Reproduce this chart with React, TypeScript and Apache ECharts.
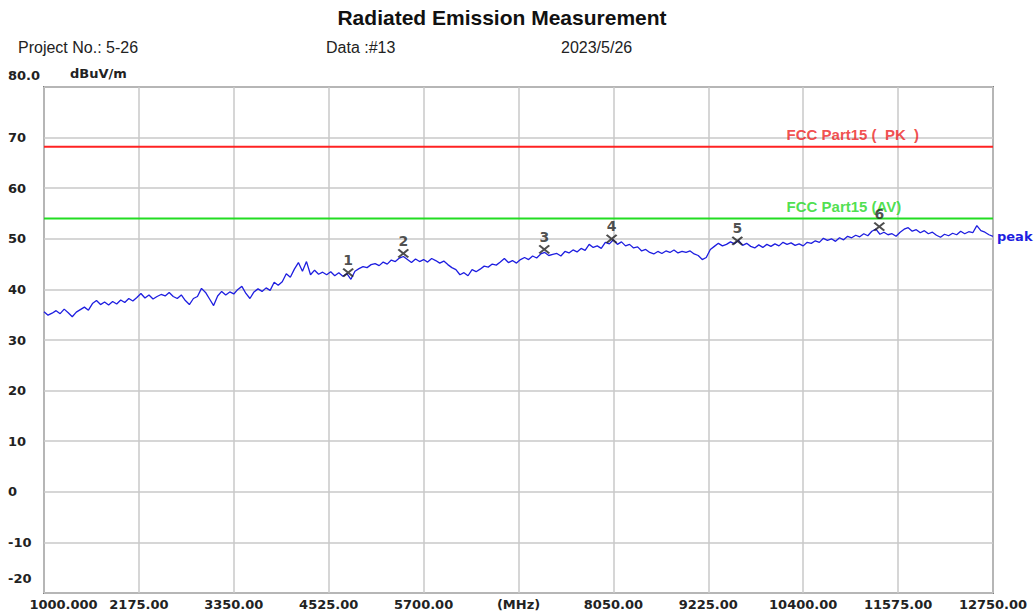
import React, { useEffect, useRef } from "react";
import * as echarts from "echarts";

// Sweep grid (MHz)
const freqStart = 1000;
const freqStep = 50;
const xAxisMin = 1000;
const xAxisMax = 12750;
const xAxisInterval = 1175;
const yAxisMin = -20;
const yAxisMax = 80;
const yAxisInterval = 10;

// Peak trace (dBuV/m), one value per sweep step
const peakTrace = [
  35.6, 34.9, 35.3, 35.8, 35.2, 36.1, 35.4, 34.6, 35.5, 36.0,
  36.5, 35.9, 37.2, 37.8, 37.0, 37.5, 36.9, 37.6, 37.1, 37.9,
  37.4, 38.2, 37.7, 38.4, 39.2, 38.3, 38.9, 38.1, 38.6, 39.0,
  38.7, 39.4, 38.6, 38.2, 38.9, 37.8, 37.0, 38.2, 38.6, 40.2,
  39.4, 38.1, 36.8, 38.7, 39.6, 38.9, 39.5, 39.1, 40.0, 40.6,
  39.2, 38.2, 39.5, 40.1, 39.6, 40.3, 39.8, 41.4, 40.8, 41.5,
  43.1, 42.4, 44.0, 45.3, 43.6, 45.5, 42.9, 43.8, 43.0, 43.4,
  42.9, 43.5, 42.7, 43.3, 42.6, 43.1, 42.0, 43.6, 44.1, 44.5,
  44.3, 44.9, 45.1, 44.7, 45.4, 45.0, 45.8, 45.5, 46.2, 46.5,
  45.9, 45.3, 46.0, 45.5, 45.9, 45.4, 46.1, 45.7, 45.2, 45.6,
  44.9, 44.3, 43.9, 42.9, 43.3, 42.7, 43.9, 43.5, 44.0, 44.6,
  44.4, 45.0, 44.8, 45.4, 46.1, 45.3, 45.7, 45.2, 45.9, 46.3,
  45.9, 46.6, 46.2, 47.0, 47.3, 46.7, 46.9, 47.1, 46.6, 47.5,
  47.2, 47.8, 47.4, 48.1, 47.7, 48.9, 48.3, 48.6, 48.1, 49.3,
  49.0, 49.8, 48.9, 49.4, 48.6, 48.9, 48.2, 48.4, 47.6, 47.9,
  47.3, 47.0, 47.5, 47.1, 47.6, 47.3, 47.8, 47.2, 47.5, 47.3,
  47.6, 47.0, 46.7, 45.9, 46.3, 47.9, 48.5, 49.1, 48.6, 48.9,
  49.4, 49.0, 49.7, 48.7, 49.1, 48.5, 48.2, 48.8, 48.3, 48.9,
  48.5, 49.0, 48.6, 49.3, 48.9, 49.2, 48.7, 49.0, 48.6, 49.3,
  49.1, 49.6, 49.3, 50.1, 49.7, 50.0, 49.5, 50.2, 49.8, 50.5,
  50.2, 50.7, 50.4, 51.0, 50.6, 51.5, 51.9, 50.9, 51.3, 50.8,
  51.0, 50.5, 51.3, 51.9, 52.2, 51.5, 51.8, 51.2, 51.6, 51.0,
  51.3, 50.7, 50.3, 50.9, 50.6, 51.1, 50.8, 51.5, 51.0, 51.4,
  51.2, 52.6, 51.6, 51.3, 50.8, 50.5,
];

// Limit lines
const pkLimit = 68.2;
const avLimit = 54.0;
const pkLimitLabel = "FCC Part15 (  PK  )";
const avLimitLabel = "FCC Part15 (AV)";
const limitLabelFreq = 10200;

// Markers
const markerFreq = [4766, 5449, 7194, 8028, 9584, 11342];
const markerLevel = [43.3, 47.1, 47.9, 50.0, 49.6, 52.4];

const titleText = "Radiated Emission Measurement";
const projectText = "Project No.: 5-26";
const dataText = "Data :#13";
const dateText = "2023/5/26";
const yUnit = "dBuV/m";
const xUnitLabel = "(MHz)";
const xUnitTick = 6875;

const AXIS_FONT = "'DejaVu Sans', sans-serif";
const SANS = "'Liberation Sans', Arial, sans-serif";

export default function App() {
  const ref = useRef<HTMLDivElement>(null);
  useEffect(() => {
    if (!ref.current) return;
    const chart = echarts.init(ref.current, undefined, { renderer: "svg" });
    const axisLabelStyle = {
      fontFamily: AXIS_FONT,
      fontWeight: "bold" as const,
      fontSize: 13,
      color: "#222",
    };
    const option: any = {
      animation: false,
      backgroundColor: "#ffffff",
      grid: {
        left: 44,
        right: 43,
        top: 87,
        bottom: 21,
        show: true,
        borderColor: "#808080",
        borderWidth: 2,
        containLabel: false,
      },
      xAxis: {
        type: "value",
        min: xAxisMin,
        max: xAxisMax,
        interval: xAxisInterval,
        axisLine: { show: false },
        axisTick: { show: false },
        splitLine: { show: true, lineStyle: { color: "#c9c9c9", width: 1.5 } },
        axisLabel: {
          ...axisLabelStyle,
          margin: 5,
          showMinLabel: true,
          showMaxLabel: true,
          formatter: (v: number) => {
            if (v === xAxisMin) return "{first|" + v.toFixed(3) + "}";
            if (v === xUnitTick) return xUnitLabel;
            return v.toFixed(2);
          },
          rich: {
            first: { ...axisLabelStyle, padding: [0, 0, 0, 39] },
          },
        },
      },
      yAxis: {
        type: "value",
        min: yAxisMin,
        max: yAxisMax,
        interval: yAxisInterval,
        axisLine: { show: false },
        axisTick: { show: false },
        splitLine: { show: true, lineStyle: { color: "#c9c9c9", width: 1.5 } },
        axisLabel: {
          ...axisLabelStyle,
          align: "left",
          margin: 36,
          formatter: (v: number) => {
            if (v === yAxisMax) return "{top|" + v.toFixed(1) + "}";
            if (v === yAxisMin) return "{bot|" + String(v) + "}";
            return String(v);
          },
          rich: {
            top: { ...axisLabelStyle, padding: [0, 0, 24, 0] },
            bot: { ...axisLabelStyle, padding: [0, 0, 30, 0] },
          },
        },
      },
      graphic: [
        {
          type: "text",
          x: 502,
          y: 17,
          style: {
            text: titleText,
            fontFamily: SANS,
            fontWeight: "bold",
            fontSize: 21,
            fill: "#111",
            align: "center",
            verticalAlign: "middle",
          },
        },
        {
          type: "text",
          x: 18,
          y: 47,
          style: { text: projectText, fontFamily: SANS, fontSize: 16, fill: "#222", verticalAlign: "middle" },
        },
        {
          type: "text",
          x: 326,
          y: 47,
          style: { text: dataText, fontFamily: SANS, fontSize: 16, fill: "#222", verticalAlign: "middle" },
        },
        {
          type: "text",
          x: 561,
          y: 47,
          style: { text: dateText, fontFamily: SANS, fontSize: 16, fill: "#222", verticalAlign: "middle" },
        },
        {
          type: "text",
          x: 70,
          y: 73,
          style: {
            text: yUnit,
            fontFamily: AXIS_FONT,
            fontWeight: "bold",
            fontSize: 13,
            fill: "#222",
            verticalAlign: "middle",
          },
        },
      ],
      series: [
        {
          type: "line",
          name: "PK limit",
          data: [
            [xAxisMin, pkLimit],
            [xAxisMax, pkLimit],
          ],
          showSymbol: false,
          symbol: "none",
          lineStyle: { color: "#ff2222", width: 2 },
          silent: true,
          z: 2,
        },
        {
          type: "line",
          name: "AV limit",
          data: [
            [xAxisMin, avLimit],
            [xAxisMax, avLimit],
          ],
          showSymbol: false,
          symbol: "none",
          lineStyle: { color: "#22dd22", width: 2 },
          silent: true,
          z: 2,
        },
        {
          type: "scatter",
          name: "limit labels",
          symbol: "circle",
          symbolSize: 1,
          itemStyle: { color: "rgba(0,0,0,0)" },
          silent: true,
          data: [
            {
              value: [limitLabelFreq, pkLimit],
              label: {
                show: true,
                position: [0, -19],
                formatter: pkLimitLabel,
                color: "#ee2222",
                fontFamily: SANS,
                fontWeight: "bold",
                fontSize: 15,
              },
            },
            {
              value: [limitLabelFreq, avLimit],
              label: {
                show: true,
                position: [0, -19],
                formatter: avLimitLabel,
                color: "#22d822",
                fontFamily: SANS,
                fontWeight: "bold",
                fontSize: 15,
              },
            },
          ],
          z: 4,
        },
        {
          type: "line",
          name: "peak",
          data: peakTrace.map((v, i) => [freqStart + i * freqStep, v]),
          showSymbol: false,
          symbol: "none",
          lineStyle: { color: "#1e1ee0", width: 1.3 },
          endLabel: {
            show: true,
            formatter: "peak",
            color: "#1e1ee0",
            fontFamily: AXIS_FONT,
            fontWeight: "bold",
            fontSize: 13,
            distance: 4,
          },
          z: 3,
        },
        {
          type: "scatter",
          name: "markers",
          data: markerFreq.map((f, i) => [f, markerLevel[i]]),
          symbol: "path://M0,0L10,8M10,0L0,8",
          symbolSize: [10, 8],
          itemStyle: { color: "rgba(0,0,0,0)", borderColor: "#222", borderWidth: 2 },
          label: {
            show: true,
            position: "top",
            distance: 1,
            formatter: (p: any) => String(p.dataIndex + 1),
            fontFamily: AXIS_FONT,
            fontWeight: "bold",
            fontSize: 14,
            color: "#222",
          },
          z: 5,
        },
      ],
    };
    chart.setOption(option);
    return () => chart.dispose();
  }, []);
  return (
    <div
      ref={ref}
      style={{ position: "fixed", left: 0, top: 0, width: 1036, height: 614, background: "#fff" }}
    />
  );
}
